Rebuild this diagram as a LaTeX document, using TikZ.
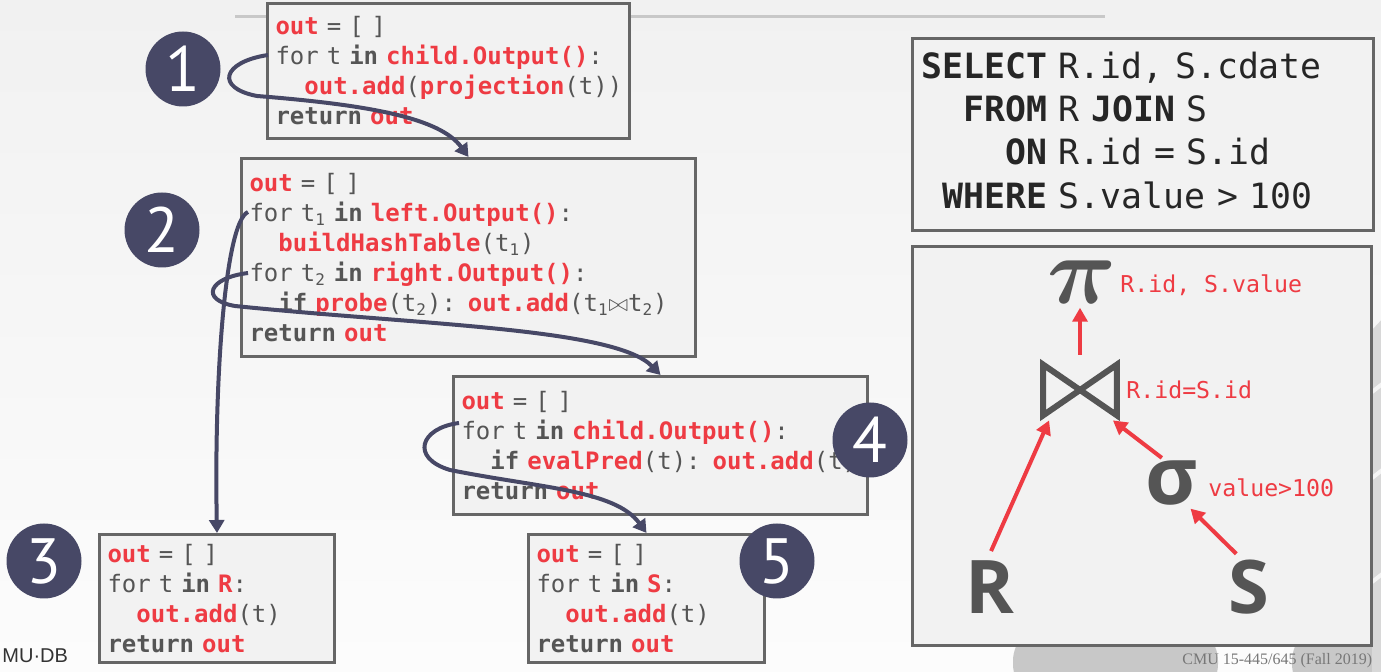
\documentclass[tikz,border=0pt]{standalone}
\usepackage{fontspec}
\usepackage{graphicx}
\setmonofont{DejaVu Sans Mono}
\newfontfamily\numfont{PT Sans}
\newfontfamily\treefont{Open Sans}
\newfontfamily\footfont{Liberation Serif}
\newfontfamily\logofont{Liberation Sans}
\usetikzlibrary{arrows.meta}

\definecolor{dbred}{HTML}{EE3B43}
\definecolor{dbgray}{HTML}{555555}
\definecolor{dbnavy}{HTML}{474866}
\definecolor{boxfill}{HTML}{F2F2F2}
\definecolor{boxline}{HTML}{666666}
\definecolor{bgtop}{HTML}{F1F1F1}
\definecolor{bgbot}{HTML}{FCFCFC}
\definecolor{decogray}{HTML}{C8C8C8}

\newcommand{\rk}[1]{\textcolor{dbred}{\textbf{#1}}}
\newcommand{\indt}{\phantom{xx}}

\tikzset{
	codebox/.style={draw=boxline, line width=1.5pt, fill=boxfill, anchor=north west,
		inner xsep=4pt, inner ysep=0pt, align=left, text=dbgray,
		font=\ttfamily\fontsize{12}{15}\selectfont},
	numdot/.style={circle, fill=dbnavy, text=white, minimum size=37.5pt, inner sep=0pt,
		font=\numfont\fontsize{32}{32}\selectfont},
	flow/.style={draw=dbnavy, line width=2pt, -{Triangle[length=6.5pt,width=7.5pt]}},
	treearrow/.style={draw=dbred, line width=2pt, shorten <=4pt, -{Triangle[length=7pt,width=7.5pt]}},
	treelabel/.style={text=dbred, anchor=west, inner sep=0pt, font=\ttfamily\fontsize{11.6}{12}\selectfont},
	relsym/.style={text=dbgray, inner sep=0pt},
	topline/.style={draw=decogray, line width=1.5pt}
}

\begin{document}
\begin{tikzpicture}[x=0.5pt, y=-0.5pt]
	% Page background
	\useasboundingbox (0,0) rectangle (1381,672);
	\fill[top color=bgtop, bottom color=bgbot] (0,0) rectangle (1381,672);
	\fill[decogray, rounded corners=18pt] (1013,625) rectangle (1218,700);
	\fill[decogray, rounded corners=18pt] (1292,625) rectangle (1420,700);
	\fill[decogray!70] (1372,330) -- (1400,300) -- (1400,672) -- (1372,672) -- cycle;
	\draw[white!80!decogray, line width=2pt] (1372,392) -- (1390,378);
	\draw[white!80!decogray, line width=2pt] (1372,478) -- (1390,464);
	\draw[white!80!decogray, line width=2pt] (1372,582) -- (1390,568);
	\draw[topline] (235,17) -- (1105,17);
	
	% Operator code boxes
	\node[codebox, text width=173pt, minimum height=67.5pt] (proj) at (266,2) {%
		\rk{out} = [ ]\\
		for t \textbf{in} \rk{child.Output()}:\\
		\indt\rk{out.add}(\rk{projection}(t))\\
		\textbf{return} \rk{out}};
	\node[codebox, text width=219pt, minimum height=99pt] (join) at (240,157) {%
		\rk{out} = [ ]\\
		for t\textsubscript{1} \textbf{in} \rk{left.Output()}:\\
		\indt\rk{buildHashTable}(t\textsubscript{1})\\
		for t\textsubscript{2} \textbf{in} \rk{right.Output()}:\\
		\mbox{\indt\textbf{if} \rk{probe}(t\textsubscript{2}): \rk{out.add}(t\textsubscript{1}$\bowtie$t\textsubscript{2})}\\
		\textbf{return} \rk{out}};
	\node[codebox, text width=199pt, minimum height=69pt] (filter) at (452,375) {%
		\rk{out} = [ ]\\
		for t \textbf{in} \rk{child.Output()}:\\
		\mbox{\indt\textbf{if} \rk{evalPred}(t): \rk{out.add}(t)}\\
		\textbf{return} \rk{out}};
	\node[codebox, text width=109.5pt, minimum height=64pt] (scanR) at (98,533) {%
		\rk{out} = [ ]\\
		for t \textbf{in} \rk{R}:\\
		\indt\rk{out.add}(t)\\
		\textbf{return} \rk{out}};
	\node[codebox, text width=110pt, minimum height=64pt] (scanS) at (527,533) {%
		\rk{out} = [ ]\\
		for t \textbf{in} \rk{S}:\\
		\indt\rk{out.add}(t)\\
		\textbf{return} \rk{out}};
	
	% Query and plan
	\node[codebox, inner xsep=4.5pt, text width=221.5pt, minimum height=96pt, text=black!85,
		font=\ttfamily\fontsize{17.4}{21.7}\selectfont] (sql) at (911,37) {%
		\begin{tabular}{@{}r@{\ }l@{}}
			\textbf{SELECT} & R.id, S.cdate\\
			\textbf{FROM} & R \textbf{JOIN} S\\
			\textbf{ON} & R.id = S.id\\
			\textbf{WHERE} & S.value > 100
		\end{tabular}};
	\node[codebox, text width=221.5pt, minimum height=199.5pt] (tree) at (911,245) {};
	
	\node[relsym] (pi) at (1082,282) {\scalebox{4.8}{\boldmath$\pi$}};
	\node[inner sep=0pt, minimum width=36.5pt, minimum height=25pt] (jn) at (1080,390) {};
	\draw[dbgray, line width=3pt, line join=miter] (jn.north west) -- (jn.south east)
		-- (jn.north east) -- (jn.south west) -- cycle;
	\node[relsym, font=\treefont\bfseries\fontsize{40}{40}\selectfont] (sg) at (1172,483) {σ};
	\node[relsym, font=\treefont\bfseries\fontsize{37}{37}\selectfont] (R) at (990,587) {R};
	\node[relsym, font=\treefont\bfseries\fontsize{37}{37}\selectfont] (S) at (1249,587) {S};
	
	\node[treelabel] (pilbl) at (1120,285) {R.id, S.value};
	\node[treelabel] (jnlbl) at (1126,390) {R.id=S.id};
	\node[treelabel] (sglbl) at (1208,488) {value>100};
	
	\draw[treearrow, shorten <=5pt, shorten >=2pt] (jn.north) -- (jn.north |- pi.south);
	\draw[treearrow, shorten <=5pt] ([xshift=-1.5pt]R.north) -- ([xshift=3pt,yshift=-2.5pt]jn.south west);
	\draw[treearrow, shorten <=2pt] ([xshift=-3.5pt]sg.north) -- ([xshift=-2pt,yshift=-2.5pt]jn.south east);
	\draw[treearrow] ([xshift=-3.5pt]S.north) -- ([xshift=-4pt,yshift=-1.5pt]sg.south east);
	
	% Control flow
	\coordinate (projloop) at (268,55);
	\coordinate (buildloop) at (248,212);
	\coordinate (probeloop) at (248,273);
	\coordinate (filterloop) at (459,423);
	\draw[flow] (projloop) .. controls (222,62) and (215,88) .. (257,96)
		.. controls (370,105) and (440,118) .. (join.north);
	\draw[flow] (buildloop) .. controls (225,222) and (214,380) .. (scanR.north);
	\draw[flow] (probeloop) .. controls (208,278) and (200,300) .. (235,306)
		.. controls (420,325) and (615,328) .. (filter.north);
	\draw[flow] (filterloop) .. controls (420,428) and (410,458) .. (450,470)
		.. controls (540,488) and (615,490) .. (scanS.north);
	
	% Step numbers
	\node[numdot] (n1) at (183,69) {1};
	\node[numdot] (n2) at (162,230) {2};
	\node[numdot] (n3) at (44,561) {3};
	\node[numdot] (n4) at (870,440) {4};
	\node[numdot] (n5) at (777,561) {5};
	
	% Footer
	\node[anchor=base west, inner sep=0pt, text=dbgray!80, font=\footfont\fontsize{8}{9}\selectfont] (foot) at (1182,665) {CMU 15-445/645 (Fall 2019)};
	\node[anchor=base west, inner sep=0pt, text=black!80, font=\logofont\fontsize{10}{10}\selectfont] (logo) at (2,663) {MU·DB};
\end{tikzpicture}
\end{document}
